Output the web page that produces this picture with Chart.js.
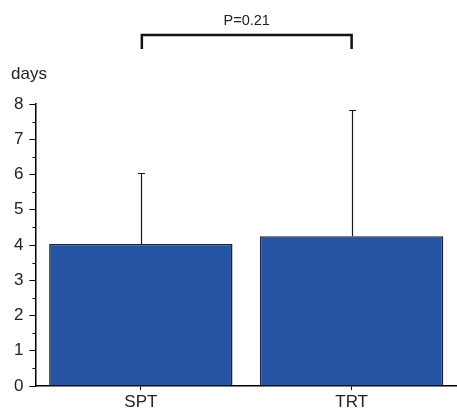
<!DOCTYPE html>
<html>
<head>
<meta charset="utf-8">
<script src="https://cdn.jsdelivr.net/npm/chart.js@4.4.1/dist/chart.umd.min.js"></script>
<style>
html,body{margin:0;padding:0;background:#fff;}
canvas{display:block;}
</style>
</head>
<body>
<canvas id="c" width="457" height="410"></canvas>
<script>
// ---- data ----
const categories = ['SPT', 'TRT'];
const meanDays = [4.03, 4.25];
const upperErrorDays = [6.05, 7.83];
const yTickValues = [0, 1, 2, 3, 4, 5, 6, 7, 8];
const yUnitLabel = 'days';
const pValueLabel = 'P=0.21';

const FONT = '"Liberation Sans", Arial, Helvetica, sans-serif';

const extras = {
  id: 'extras',
  afterDatasetsDraw(chart) {
    const ctx = chart.ctx;
    const y = chart.scales.y;
    const meta = chart.getDatasetMeta(0);
    ctx.save();
    ctx.strokeStyle = '#1a1a1a';
    ctx.lineWidth = 1.2;
    meta.data.forEach((bar, i) => {
      const x = Math.round(bar.x) + 0.5;
      const y0 = y.getPixelForValue(meanDays[i]);
      const y1 = Math.round(y.getPixelForValue(upperErrorDays[i])) + 0.5;
      ctx.beginPath();
      ctx.moveTo(x, y0);
      ctx.lineTo(x, y1);
      ctx.moveTo(x - 3.5, y1);
      ctx.lineTo(x + 3.5, y1);
      ctx.stroke();
    });
    ctx.restore();
  },
  afterDraw(chart) {
    const ctx = chart.ctx;
    const xs = chart.scales.x;
    const ys = chart.scales.y;
    const area = chart.chartArea;
    ctx.save();
    // minor ticks on y axis
    ctx.strokeStyle = '#000';
    ctx.lineWidth = 1;
    for (let i = 0; i < yTickValues.length - 1; i++) {
      const v = (yTickValues[i] + yTickValues[i + 1]) / 2;
      const py = Math.round(ys.getPixelForValue(v)) + 0.5;
      ctx.beginPath();
      ctx.moveTo(area.left - 3, py);
      ctx.lineTo(area.left, py);
      ctx.stroke();
    }
    // significance bracket
    const xa = xs.getPixelForValue(0) + 1;
    const xb = xs.getPixelForValue(1);
    const yTop = ys.getPixelForValue(9.96);
    const yBot = ys.getPixelForValue(9.56);
    ctx.strokeStyle = '#111';
    ctx.lineWidth = 2.5;
    ctx.lineCap = 'butt';
    ctx.beginPath();
    ctx.moveTo(xa, yBot);
    ctx.lineTo(xa, yTop);
    ctx.lineTo(xb, yTop);
    ctx.lineTo(xb, yBot);
    ctx.stroke();
    ctx.fillStyle = '#222';
    ctx.font = '14.5px ' + FONT;
    ctx.textAlign = 'center';
    ctx.textBaseline = 'alphabetic';
    ctx.fillText(pValueLabel, (xa + xb) / 2, yTop - 10);
    // unit label
    ctx.font = '17px ' + FONT;
    ctx.textAlign = 'left';
    ctx.fillText(yUnitLabel, 11, 79);
    ctx.restore();
  }
};

new Chart(document.getElementById('c'), {
  type: 'bar',
  data: {
    labels: categories,
    datasets: [{
      data: meanDays,
      backgroundColor: '#2454a3',
      borderColor: '#16243f',
      borderWidth: 1.6,
      barPercentage: 0.87,
      categoryPercentage: 1.0
    }]
  },
  options: {
    responsive: false,
    animation: false,
    layout: { padding: { top: 104, left: 8, right: 0, bottom: -5 } },
    plugins: { legend: { display: false }, tooltip: { enabled: false } },
    scales: {
      x: {
        offset: true,
        border: { color: '#000', width: 1.5 },
        grid: { offset: false, drawOnChartArea: false, drawTicks: true, tickLength: 4, color: '#000' },
        ticks: { color: '#222', font: { family: FONT, size: 17, lineHeight: 1 }, padding: 4, maxRotation: 0 }
      },
      y: {
        min: 0,
        max: 8,
        afterBuildTicks(scale) { scale.ticks = yTickValues.map(v => ({ value: v })); },
        border: { color: '#000', width: 1.5 },
        grid: { drawOnChartArea: false, drawTicks: true, tickLength: 6, color: '#000' },
        ticks: { color: '#222', font: { family: FONT, size: 17, lineHeight: 1 }, padding: 6 }
      }
    }
  },
  plugins: [extras]
});
</script>
</body>
</html>
